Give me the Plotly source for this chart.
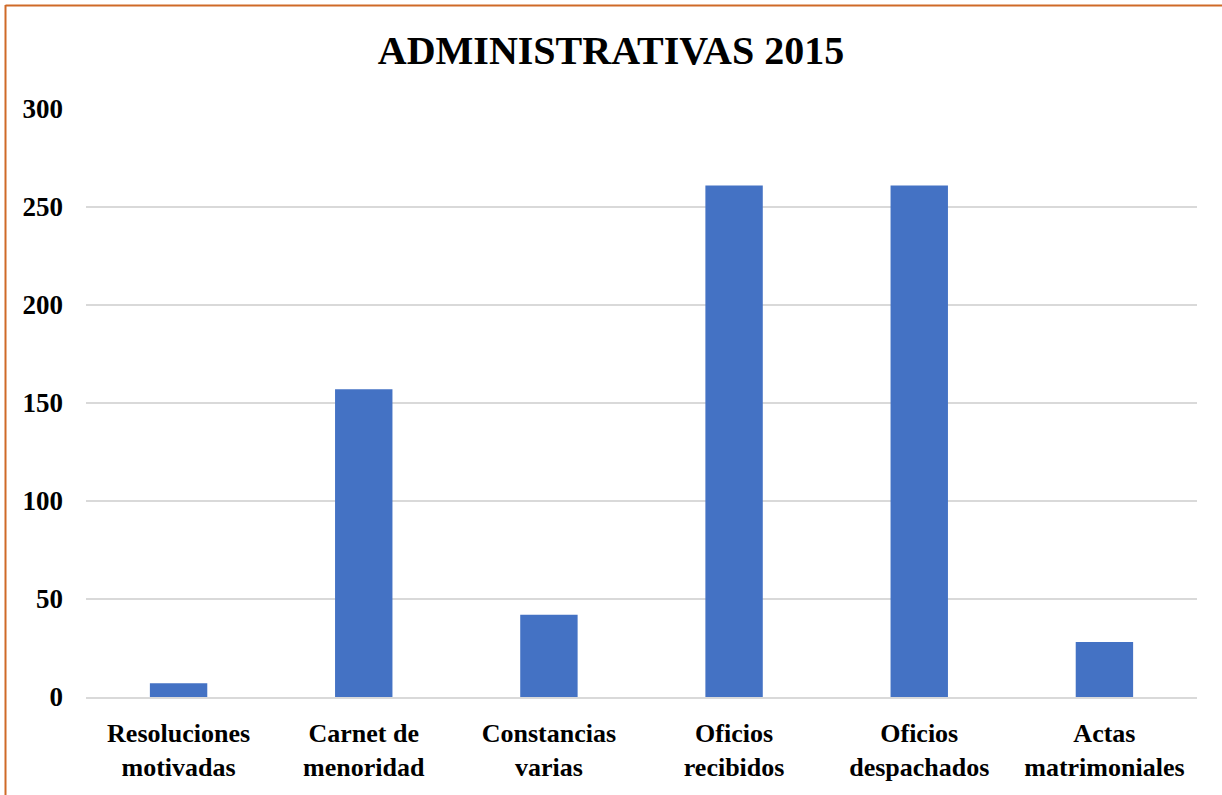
import plotly.graph_objects as go

categories = ["Resoluciones<br>motivadas", "Carnet de<br>menoridad", "Constancias<br>varias",
              "Oficios<br>recibidos", "Oficios<br>despachados", "Actas<br>matrimoniales"]
values = [7, 157, 42, 261, 261, 28]
y_ticks = [0, 50, 100, 150, 200, 250, 300]

W, H = 1222, 795
ml, mr, mt, mb = 86, 25, 109, 98
pw, ph = W - ml - mr, H - mt - mb

font = "Liberation Serif"
fig = go.Figure(go.Bar(x=categories, y=values, marker=dict(color="#4472C4", line=dict(width=0)),
                       hoverinfo="skip"))

def px_x(p):
    return (p - ml) / pw

def px_y(p):
    return (H - mb - p) / ph

border = "#CF6A28"
fig.add_shape(type="line", xref="paper", yref="paper", x0=px_x(5.5), x1=px_x(5.5), y0=px_y(5), y1=px_y(H + 5),
              line=dict(color=border, width=2))
fig.add_shape(type="line", xref="paper", yref="paper", x0=px_x(5.5), x1=px_x(W + 5), y0=px_y(5.5), y1=px_y(5.5),
              line=dict(color=border, width=2))

fig.update_layout(
    width=W, height=H,
    margin=dict(l=ml, r=mr, t=mt, b=mb),
    paper_bgcolor="white", plot_bgcolor="white",
    bargap=0.69,
    showlegend=False,
    title=dict(text="<b>ADMINISTRATIVAS 2015</b>", x=0.5, xanchor="center", y=1 - 50 / H, yanchor="middle",
               font=dict(family=font, size=40, color="black")),
    font=dict(family=font, color="black"),
)
fig.update_xaxes(showgrid=False, showline=True, linecolor="#D9D9D9", linewidth=1.5, ticks="",
                 ticklabelstandoff=12,
                 tickfont=dict(family=font, size=26, color="black"),
                 tickvals=categories, ticktext=["<b>" + c + "</b>" for c in categories])
fig.update_yaxes(range=[0, 300], tickvals=y_ticks, ticktext=["<b>%d</b>" % v for v in y_ticks],
                 showgrid=True, gridcolor="#D9D9D9", gridwidth=1.5, zeroline=False, showline=False,
                 ticks="", ticklabelstandoff=22, tickfont=dict(family=font, size=27, color="black"))

fig.write_html("out.html", config={"displayModeBar": False},
               post_script="document.body.style.margin='0px';")
